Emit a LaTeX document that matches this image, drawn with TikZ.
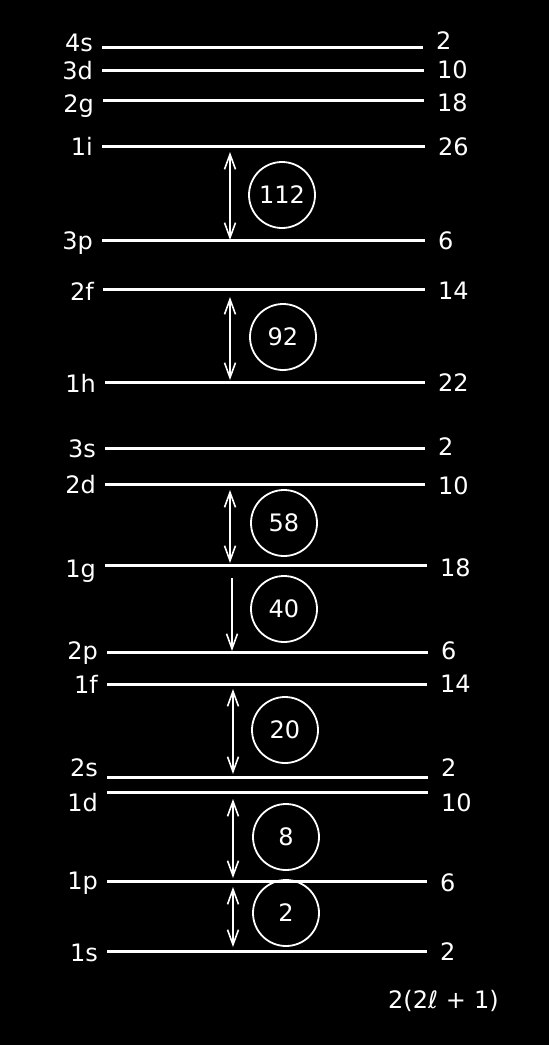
\documentclass[tikz,border=0pt]{standalone}
\usepackage{fontspec}
\setmainfont{DejaVu Sans}
\usetikzlibrary{arrows.meta}
\begin{document}
\begin{tikzpicture}[x=1pt,y=-1pt,
  level/.style={line width=3pt, white},
  lab/.style={text=white, font=\fontsize{24}{26}\selectfont, inner sep=0pt},
  magic/.style={circle, draw=white, line width=1.8pt, minimum size=66pt, inner sep=0pt, text=white, font=\fontsize{24}{26}\selectfont},
  gap/.style={white, line width=1.6pt, {Straight Barb[length=15pt,width=11pt]}-{Straight Barb[length=15pt,width=11pt]}},
  down/.style={white, line width=1.6pt, -{Straight Barb[length=15pt,width=11pt]}}]
\fill[black] (0,0) rectangle (549,1045);
\useasboundingbox (0,0) rectangle (549,1045);
% name / line y / x start / x end / left label / left label centre y / right label / right label centre y
\foreach \n/\y/\xa/\xb/\l/\ly/\r/\ry in {
  s4/47/102/423/4s/42/2/40,
  d3/70/102/424/3d/70/10/69,
  g2/100/103/424/2g/103/18/102,
  i1/146/102/425/1i/146/26/146,
  p3/240/102/425/3p/240/6/240,
  f2/289/103/425/2f/291/14/290,
  h1/382/105/425/1h/383/22/382,
  s3/448/105/425/3s/448/2/446,
  d2/484/105/425/2d/484/10/485,
  g1/565/105/427/1g/568/18/567,
  p2/652/107/428/2p/650/6/650,
  f1/684/107/427/1f/684/14/683,
  s2/777/107/428/2s/767/2/767,
  d1/792/107/428/1d/802/10/802,
  p1/881/107/427/1p/880/6/882,
  s1/951/107/427/1s/952/2/951}{
  \coordinate (\n L) at (\xa,\y);
  \coordinate (\n R) at (\xb,\y);
  \draw[level] (\n L) -- (\n R);
  \node[lab, anchor=base east] (\n lab) at (\xa-9,\ly+9) {\l};
  \node[lab, anchor=base west] (\n num) at (\xb+13,\ry+9) {\r};
}
% shell-closure circles
\node[magic] (m112) at (282,195) {112};
\node[magic] (m92) at (283,337) {92};
\node[magic] (m58) at (284,523) {58};
\node[magic] (m40) at (284,609) {40};
\node[magic] (m20) at (285,730) {20};
\node[magic] (m8) at (286,837) {8};
\node[magic] (m2) at (286,913) {2};
% gap arrows
\coordinate (a112t) at (230,152); \coordinate (a112b) at (230,240);
\coordinate (a92t) at (230,297);  \coordinate (a92b) at (230,380);
\coordinate (a58t) at (230,490);  \coordinate (a58b) at (230,563);
\coordinate (a40t) at (232,578);  \coordinate (a40b) at (232,651);
\coordinate (a20t) at (233,689);  \coordinate (a20b) at (233,774);
\coordinate (a8t) at (233,799);   \coordinate (a8b) at (233,878);
\coordinate (a2t) at (233,887);   \coordinate (a2b) at (233,947);
\draw[gap] (a112t) -- (a112b);
\draw[gap] (a92t) -- (a92b);
\draw[gap] (a58t) -- (a58b);
\draw[down] (a40t) -- (a40b);
\draw[gap] (a20t) -- (a20b);
\draw[gap] (a8t) -- (a8b);
\draw[gap] (a2t) -- (a2b);
% formula
\node[lab, anchor=base west] (formula) at (388,1008) {2(2ℓ\hspace{8pt}+\hspace{8pt}1)};
\end{tikzpicture}
\end{document}
